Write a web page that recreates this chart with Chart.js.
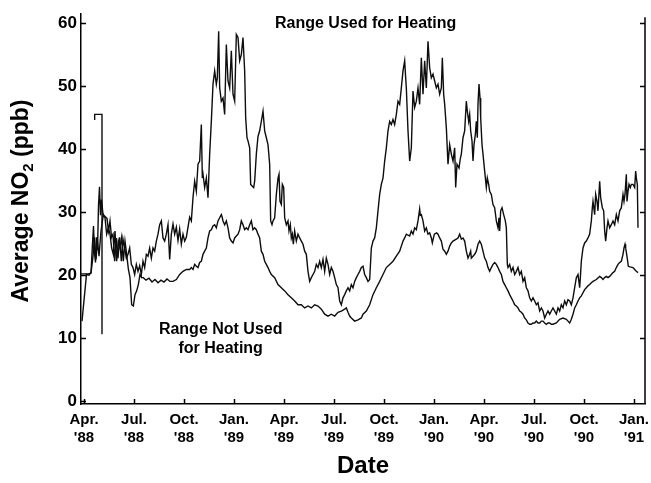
<!DOCTYPE html>
<html lang="en">
<head>
<meta charset="UTF-8">
<title>Average NO2 by date</title>
<script src="https://cdn.jsdelivr.net/npm/chart.js@4.4.1/dist/chart.umd.min.js"></script>
<style>
  html, body { margin: 0; padding: 0; background: #fff; }
  canvas { display: block; }
</style>
</head>
<body>
<canvas id="no2" width="651" height="483"></canvas>
<script>
// x values are months counted from 1 April 1988
var tickMonths = [0, 3, 6, 9, 12, 15, 18, 21, 24, 27, 30, 33];
var tickLabels = [["Apr.", "'88"], ["Jul.", "'88"], ["Oct.", "'88"], ["Jan.", "'89"],
                  ["Apr.", "'89"], ["Jul.", "'89"], ["Oct.", "'89"], ["Jan.", "'90"],
                  ["Apr.", "'90"], ["Jul.", "'90"], ["Oct.", "'90"], ["Jan.", "'91"]];
var yTicks = [0, 10, 20, 30, 40, 50, 60];

// [month, NO2 ppb] - homes where the range was used for heating
var heatingUsed = [
  [-0.12,12.7],[0.00,16.0],[0.15,20.1],[0.30,20.0],[0.42,20.4],[0.51,25.0],[0.57,27.8],[0.63,23.5],
  [0.69,22.0],[0.75,26.0],[0.81,24.0],[0.87,31.0],[0.93,34.0],[0.99,29.5],[1.05,32.0],
  [1.14,29.6],[1.26,29.3],[1.38,29.0],[1.47,27.0],[1.56,28.6],[1.65,26.0],[1.74,26.5],[1.84,22.2],
  [1.94,25.9],[2.04,22.7],[2.14,26.0],[2.24,22.2],[2.34,25.7],[2.44,24.3],[2.54,22.7],[2.64,23.3],
  [2.74,24.3],[2.84,21.7],[2.94,21.2],[3.04,20.1],[3.14,21.7],[3.24,20.6],[3.34,21.5],[3.44,20.1],
  [3.54,22.2],[3.64,21.2],[3.74,23.3],[3.84,23.0],[3.94,24.3],[4.04,22.7],[4.14,24.3],[4.24,23.8],
  [4.34,25.4],[4.44,26.5],[4.54,28.0],[4.64,28.6],[4.74,25.9],[4.84,25.4],[4.94,26.5],[5.04,28.0],
  [5.14,22.5],[5.24,26.5],[5.34,28.1],[5.44,26.5],[5.54,27.6],[5.64,25.5],[5.74,27.3],[5.84,24.9],
  [5.94,26.5],[6.04,25.4],[6.14,26.0],[6.24,27.6],[6.34,29.2],[6.44,28.6],[6.54,32.3],[6.64,34.9],
  [6.74,33.3],[6.84,37.6],[6.94,38.1],[7.04,43.9],[7.10,35.4],[7.14,36.0],[7.24,33.9],[7.34,35.4],
  [7.44,32.3],[7.54,39.2],[7.64,44.4],[7.74,50.3],[7.84,52.4],[7.94,50.3],[8.00,51.3],[8.08,58.7],
  [8.14,49.7],[8.24,47.6],[8.34,48.1],[8.44,45.5],[8.54,56.6],[8.64,50.8],[8.74,49.7],[8.84,55.6],
  [8.94,48.7],[9.04,47.6],[9.14,58.2],[9.24,57.7],[9.34,54.0],[9.44,55.0],[9.54,57.7],[9.64,52.4],
  [9.70,45.0],[9.78,41.8],[9.84,41.3],[9.94,40.2],[10.00,34.4],[10.10,34.1],[10.18,33.9],[10.24,34.9],
  [10.34,39.2],[10.44,42.0],[10.54,42.9],[10.64,44.4],[10.74,46.0],[10.84,42.9],[10.94,41.8],[11.04,40.7],
  [11.14,37.6],[11.20,28.6],[11.28,28.0],[11.34,28.6],[11.44,29.1],[11.54,32.8],[11.64,35.4],[11.70,36.0],
  [11.76,31.7],[11.84,31.2],[11.90,34.4],[11.98,33.9],[12.04,29.1],[12.14,28.0],[12.24,28.6],[12.30,27.0],
  [12.38,28.0],[12.44,25.9],[12.50,26.5],[12.56,24.9],[12.64,27.0],[12.74,25.4],[12.84,26.5],[12.94,25.9],
  [13.04,25.4],[13.14,24.9],[13.24,23.8],[13.34,23.3],[13.44,20.6],[13.54,19.0],[13.64,19.6],[13.74,20.1],
  [13.84,20.6],[13.94,21.7],[14.04,21.2],[14.14,22.2],[14.24,21.2],[14.34,22.5],[14.44,20.6],[14.54,22.7],
  [14.64,21.7],[14.74,20.1],[14.84,21.2],[14.94,20.6],[15.04,19.6],[15.14,18.5],[15.24,18.0],[15.34,15.9],
  [15.44,15.3],[15.54,16.4],[15.64,16.9],[15.74,17.5],[15.84,18.0],[15.94,17.5],[16.04,18.5],[16.14,18.0],
  [16.24,19.0],[16.34,19.6],[16.44,20.1],[16.54,20.6],[16.64,21.2],[16.74,21.4],[16.84,20.1],[16.94,19.6],
  [17.04,19.0],[17.14,19.3],[17.24,24.3],[17.34,25.4],[17.44,25.9],[17.54,27.5],[17.64,30.2],[17.74,32.8],
  [17.84,34.4],[17.94,35.4],[18.04,38.1],[18.14,40.2],[18.24,42.9],[18.34,44.4],[18.44,43.9],[18.54,44.7],
  [18.64,43.9],[18.74,45.5],[18.84,47.6],[18.94,47.1],[19.04,49.7],[19.14,52.4],[19.24,54.0],[19.30,51.3],
  [19.34,49.7],[19.44,42.9],[19.54,38.1],[19.64,40.2],[19.74,49.2],[19.84,46.6],[19.94,47.6],[20.04,49.7],
  [20.14,47.1],[20.24,54.5],[20.34,48.7],[20.44,54.0],[20.54,49.7],[20.64,57.1],[20.74,52.9],[20.84,51.3],
  [20.94,51.9],[21.04,50.8],[21.14,49.7],[21.24,50.3],[21.34,48.7],[21.44,49.7],[21.50,54.5],[21.58,48.7],
  [21.64,47.1],[21.74,43.4],[21.84,37.6],[21.94,40.7],[22.04,39.2],[22.14,38.1],[22.24,40.2],[22.30,33.9],
  [22.38,37.6],[22.50,37.0],[22.58,38.5],[22.64,39.2],[22.74,41.8],[22.84,42.9],[22.94,47.6],[23.00,46.0],
  [23.08,44.4],[23.14,45.5],[23.20,42.9],[23.28,41.3],[23.34,38.1],[23.40,40.7],[23.48,42.3],[23.54,44.4],
  [23.60,41.8],[23.64,47.1],[23.70,50.3],[23.76,48.1],[23.80,45.0],[23.88,40.7],[23.94,39.2],[24.04,36.5],
  [24.14,33.9],[24.20,35.4],[24.28,34.4],[24.34,33.3],[24.44,32.8],[24.54,31.2],[24.64,30.7],[24.74,28.6],
  [24.84,27.5],[24.90,29.1],[24.94,27.0],[25.00,30.2],[25.08,30.7],[25.18,29.6],[25.28,28.6],[25.34,27.5],
  [25.40,21.7],[25.44,21.2],[25.54,21.7],[25.64,20.6],[25.74,21.2],[25.84,20.1],[25.94,20.6],[26.04,21.2],
  [26.14,20.1],[26.24,20.6],[26.34,19.0],[26.44,19.6],[26.54,18.0],[26.64,17.5],[26.74,16.4],[26.84,15.9],
  [26.94,16.4],[27.04,15.9],[27.14,15.3],[27.24,15.6],[27.34,14.3],[27.44,14.8],[27.54,14.3],[27.64,13.2],
  [27.74,13.8],[27.84,14.3],[27.94,13.8],[28.04,14.3],[28.14,14.8],[28.24,14.3],[28.34,13.8],[28.44,14.8],
  [28.54,14.3],[28.64,15.3],[28.74,14.8],[28.84,15.9],[28.94,15.3],[29.04,16.1],[29.14,15.9],[29.24,15.3],
  [29.34,16.4],[29.44,18.0],[29.54,19.6],[29.64,20.1],[29.74,18.0],[29.78,19.6],[29.84,22.2],[29.94,24.3],
  [30.04,25.1],[30.14,25.4],[30.24,25.9],[30.34,26.5],[30.44,28.6],[30.50,30.7],[30.54,31.7],[30.64,29.6],
  [30.70,32.8],[30.78,31.7],[30.84,30.2],[30.94,34.9],[31.00,32.3],[31.10,30.7],[31.18,30.2],[31.24,27.0],
  [31.30,25.4],[31.38,27.5],[31.44,28.6],[31.54,27.5],[31.64,28.0],[31.74,28.6],[31.84,28.0],[31.94,29.6],
  [32.04,28.6],[32.14,30.2],[32.24,30.7],[32.34,32.8],[32.40,31.7],[32.46,32.8],[32.54,36.0],[32.58,31.7],
  [32.64,33.3],[32.70,34.4],[32.78,33.9],[32.84,34.4],[32.94,34.4],[33.04,33.9],[33.10,36.5],[33.14,35.4],
  [33.20,34.4],[33.24,27.5]
];

// short excursion in the heating record, early May '88
var heatingUsedSpike = [[0.64,44.6],[0.64,45.5],[1.08,45.5],[1.08,10.6]];

// [month, NO2 ppb] - homes where the range was not used for heating
var heatingNotUsed = [
  [-0.18,20.2],[0.00,20.2],[0.24,20.2],[0.42,20.3],[0.54,23.0],[0.63,26.0],[0.72,22.5],[0.81,25.5],
  [0.90,23.0],[1.02,27.0],[1.16,29.6],[1.26,29.1],[1.36,26.5],[1.46,27.5],[1.56,26.5],[1.66,24.3],
  [1.76,23.3],[1.86,27.0],[1.96,22.2],[2.06,25.4],[2.16,24.3],[2.26,26.0],[2.36,22.2],[2.46,25.4],
  [2.56,23.3],[2.66,21.0],[2.76,19.6],[2.86,15.3],[2.96,15.1],[3.06,16.9],[3.16,17.5],[3.26,18.5],
  [3.36,20.1],[3.46,19.6],[3.56,19.6],[3.72,19.2],[3.90,19.5],[4.08,18.9],[4.26,19.3],[4.44,18.8],
  [4.62,19.2],[4.80,18.9],[4.98,19.4],[5.16,19.0],[5.34,19.0],[5.54,19.3],[5.74,20.1],[5.94,20.6],
  [6.14,20.9],[6.34,20.9],[6.44,21.2],[6.54,20.9],[6.64,21.7],[6.74,21.4],[6.84,21.2],[6.94,22.0],
  [7.04,22.2],[7.14,23.3],[7.24,23.8],[7.34,24.3],[7.44,25.9],[7.54,27.0],[7.64,27.2],[7.74,27.8],
  [7.84,28.0],[7.94,27.5],[8.04,28.6],[8.14,29.1],[8.24,29.6],[8.30,29.1],[8.34,28.6],[8.44,28.0],
  [8.54,28.6],[8.64,27.5],[8.74,25.9],[8.84,25.4],[8.94,25.1],[9.04,25.9],[9.14,26.2],[9.24,26.5],
  [9.34,27.2],[9.44,28.6],[9.54,28.0],[9.64,27.2],[9.74,27.5],[9.84,27.2],[9.94,28.0],[10.04,28.6],
  [10.14,27.2],[10.24,27.5],[10.34,27.2],[10.44,26.5],[10.54,25.9],[10.64,23.8],[10.74,23.3],[10.84,22.2],
  [10.94,21.7],[11.04,21.2],[11.14,20.6],[11.24,20.1],[11.44,19.6],[11.64,18.5],[11.84,18.0],[12.04,17.5],
  [12.24,16.9],[12.44,16.4],[12.64,15.9],[12.84,15.3],[13.04,15.3],[13.24,14.8],[13.44,15.1],[13.64,14.8],
  [13.84,15.3],[14.04,15.1],[14.24,14.6],[14.44,13.8],[14.64,13.5],[14.84,13.8],[15.04,13.5],[15.24,14.1],
  [15.44,14.3],[15.64,14.6],[15.74,14.8],[15.84,14.1],[15.94,13.5],[16.04,13.2],[16.24,12.7],[16.44,12.9],
  [16.64,13.2],[16.74,13.8],[16.94,14.3],[17.14,15.3],[17.34,16.9],[17.54,18.0],[17.74,19.0],[17.94,20.1],
  [18.14,21.2],[18.34,21.7],[18.54,22.2],[18.74,23.0],[18.94,23.8],[19.14,25.4],[19.24,25.9],[19.34,26.5],
  [19.54,26.2],[19.64,27.0],[19.74,26.5],[19.84,27.5],[19.94,27.2],[20.04,28.6],[20.14,30.5],[20.18,29.5],
  [20.24,29.6],[20.34,28.6],[20.44,27.0],[20.54,27.5],[20.64,26.5],[20.74,26.7],[20.84,25.9],[20.90,25.1],
  [21.02,26.5],[21.16,26.7],[21.24,26.5],[21.34,25.9],[21.44,25.4],[21.54,24.1],[21.64,23.8],[21.74,23.3],
  [21.84,23.8],[21.94,24.6],[22.04,25.1],[22.14,25.4],[22.34,25.7],[22.44,25.9],[22.54,26.5],[22.64,25.7],
  [22.74,25.9],[22.84,25.4],[22.94,23.8],[23.04,22.7],[23.14,23.3],[23.20,23.8],[23.24,22.7],[23.34,23.0],
  [23.44,23.3],[23.54,23.8],[23.64,24.9],[23.74,25.4],[23.84,24.9],[23.94,23.8],[24.04,22.7],[24.14,22.2],
  [24.24,21.2],[24.34,20.6],[24.44,21.2],[24.54,21.7],[24.64,22.0],[24.74,21.7],[24.84,21.2],[24.94,20.6],
  [25.04,20.1],[25.14,19.0],[25.24,18.5],[25.34,18.0],[25.44,17.5],[25.54,16.9],[25.64,16.4],[25.74,15.9],
  [25.84,15.3],[25.94,15.1],[26.04,14.8],[26.14,14.3],[26.24,14.1],[26.34,13.8],[26.44,13.2],[26.54,12.9],
  [26.64,12.4],[26.74,12.2],[26.84,12.2],[26.94,12.4],[27.04,12.4],[27.14,12.7],[27.24,12.4],[27.34,12.4],
  [27.44,12.7],[27.54,12.7],[27.64,12.4],[27.74,12.2],[27.84,12.4],[27.94,12.4],[28.04,12.2],[28.14,12.2],
  [28.34,12.4],[28.54,13.0],[28.74,13.2],[28.94,13.0],[29.04,12.7],[29.14,12.4],[29.24,13.0],[29.34,13.8],
  [29.44,14.8],[29.54,15.3],[29.64,15.9],[29.74,16.4],[29.84,16.7],[29.94,17.2],[30.04,17.7],[30.14,18.0],
  [30.24,18.3],[30.34,18.5],[30.44,18.8],[30.54,19.0],[30.74,19.3],[30.94,19.8],[31.04,19.6],[31.14,19.3],
  [31.24,19.6],[31.34,19.8],[31.44,19.6],[31.54,19.8],[31.64,20.1],[31.74,20.4],[31.84,20.6],[31.94,21.2],
  [32.04,21.7],[32.14,22.0],[32.24,22.2],[32.34,23.3],[32.40,24.3],[32.46,24.9],[32.50,24.3],[32.56,23.3],
  [32.62,22.2],[32.66,21.4],[32.76,21.3],[32.94,21.2],[33.04,20.9],[33.14,20.6],[33.24,20.4]
];

var FONT = '"Liberation Sans", Arial, Helvetica, sans-serif';
Chart.defaults.font.family = FONT;
Chart.defaults.color = '#000';

function toPoints(rows) {
  return rows.map(function (r) { return { x: r[0], y: r[1] }; });
}

function lineSet(rows) {
  return {
    data: toPoints(rows),
    borderColor: '#0d0d0d',
    borderWidth: 1.4,
    pointRadius: 0,
    tension: 0,
    fill: false
  };
}

// frame on the right, inward tick marks, axis titles and the two curve labels
var extras = {
  id: 'extras',
  afterDraw: function (chart) {
    var c = chart.ctx, a = chart.chartArea, xs = chart.scales.x, ys = chart.scales.y;
    c.save();
    c.strokeStyle = '#000';
    c.lineWidth = 1.5;
    c.beginPath();
    c.moveTo(a.right, a.top + 3);
    c.lineTo(a.right, a.bottom);
    yTicks.forEach(function (v) {
      var py = Math.round(ys.getPixelForValue(v)) + 0.5;
      if (v > 0) {
        c.moveTo(a.right, py); c.lineTo(a.right - 5, py);
      }
      c.moveTo(a.left, py); c.lineTo(a.left + 5, py);
    });
    tickMonths.forEach(function (m) {
      var px = Math.round(xs.getPixelForValue(m)) + 0.5;
      c.moveTo(px, a.bottom); c.lineTo(px, a.bottom - 5);
    });
    c.stroke();

    c.fillStyle = '#000';
    c.textAlign = 'center';
    c.textBaseline = 'middle';
    c.font = 'bold 16px ' + FONT;
    c.fillText('Range Used for Heating', xs.getPixelForValue(16.9), ys.getPixelForValue(59.9));
    c.fillText('Range Not Used', xs.getPixelForValue(8.2), ys.getPixelForValue(11.4));
    c.fillText('for Heating', xs.getPixelForValue(8.2), ys.getPixelForValue(8.3));

    c.font = 'bold 24px ' + FONT;
    c.fillText('Date', (a.left + a.right) / 2, 466);

    // y title with a subscript 2
    var big = 'bold 23px ' + FONT, small = 'bold 15px ' + FONT;
    var p1 = 'Average NO', p2 = '2', p3 = ' (ppb)';
    c.font = big;
    var w1 = c.measureText(p1).width, w3 = c.measureText(p3).width;
    c.font = small;
    var w2 = c.measureText(p2).width;
    var total = w1 + w2 + w3;
    c.translate(20, 201);
    c.rotate(-Math.PI / 2);
    c.textAlign = 'left';
    c.textBaseline = 'alphabetic';
    c.font = big;
    c.fillText(p1, -total / 2, 8);
    c.font = small;
    c.fillText(p2, -total / 2 + w1, 13);
    c.font = big;
    c.fillText(p3, -total / 2 + w1 + w2, 8);
    c.restore();
  }
};

new Chart(document.getElementById('no2'), {
  type: 'line',
  data: {
    datasets: [lineSet(heatingUsed), lineSet(heatingUsedSpike), lineSet(heatingNotUsed)]
  },
  options: {
    responsive: false,
    animation: false,
    devicePixelRatio: 1,
    layout: { padding: { top: 12, right: 6, left: 0, bottom: 0 } },
    plugins: { legend: { display: false }, tooltip: { enabled: false } },
    scales: {
      x: {
        type: 'linear',
        min: -0.18,
        max: 33.66,
        afterBuildTicks: function (s) {
          s.ticks = tickMonths.map(function (m) { return { value: m }; });
        },
        afterFit: function (s) { s.height = 79; s.paddingLeft = 0; s.paddingRight = 0; },
        grid: { display: false, drawTicks: false },
        border: { display: true, color: '#000', width: 1.5 },
        ticks: {
          autoSkip: false,
          maxRotation: 0,
          padding: 6,
          color: '#000',
          font: { size: 15, weight: 'bold', lineHeight: 1.25 },
          callback: function (v, i) { return tickLabels[i]; }
        }
      },
      y: {
        type: 'linear',
        min: -0.45,
        max: 61.4,
        afterBuildTicks: function (s) {
          s.ticks = yTicks.map(function (v) { return { value: v }; });
        },
        afterFit: function (s) { s.width = 81; },
        grid: { display: false, drawTicks: false },
        border: { display: true, color: '#000', width: 1.5 },
        ticks: {
          padding: 4,
          color: '#000',
          font: { size: 17, weight: 'bold' }
        }
      }
    }
  },
  plugins: [extras]
});
</script>
</body>
</html>
